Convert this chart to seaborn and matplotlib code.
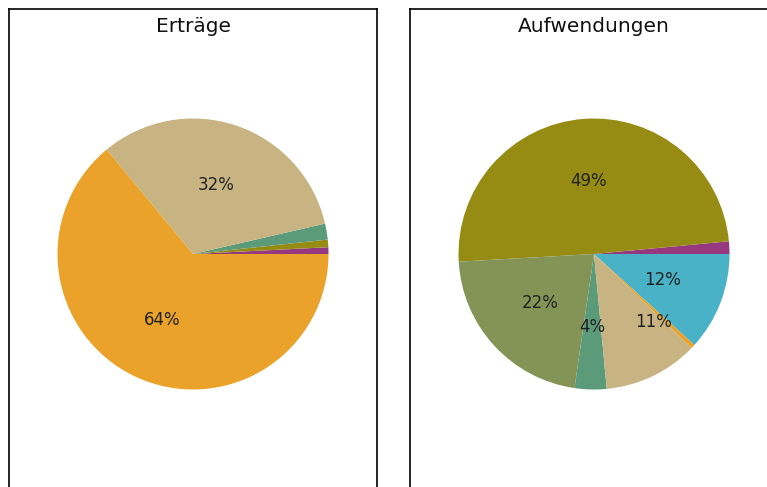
import matplotlib
matplotlib.use('Agg')
import matplotlib.pyplot as plt
import seaborn as sns

# slice colours, shared by both pies
colors = {
    "purple": "#96387F",
    "olive": "#968C14",
    "olivegreen": "#849456",
    "green": "#5B9B7A",
    "beige": "#C8B482",
    "orange": "#EBA22B",
    "blue": "#4AB2C6",
}

ert_keys = ["purple", "olive", "green", "beige", "orange"]
ert_values = [0.8, 0.9, 1.9, 32.4, 64.0]

auf_keys = ["purple", "olive", "olivegreen", "green", "beige", "orange", "blue"]
auf_values = [1.5, 49.4, 21.8, 3.8, 11.3, 0.5, 11.7]

titles = ["Erträge", "Aufwendungen"]

sns.set_theme(style="white")
plt.rcParams['font.family'] = ['DejaVu Sans']

W, H = 767, 487
fig = plt.figure(figsize=(W / 100, H / 100), dpi=100)


def frame(x0, x1):
    ax = fig.add_axes([x0 / W, -0.2, (x1 - x0) / W, 1.2 - 9 / H])
    ax.set_xticks([])
    ax.set_yticks([])
    for s in ax.spines.values():
        s.set_color("black")
        s.set_linewidth(1.2)
    return ax


def pie(cx, keys, values, title):
    r = 135.5
    ax = fig.add_axes([(cx - r) / W, 1 - (254 + r) / H, 2 * r / W, 2 * r / H])
    wedges, texts, autotexts = ax.pie(
        values,
        colors=sns.color_palette([colors[k] for k in keys]),
        startangle=0,
        autopct=lambda p: f"{p:.0f}%" if p >= 3 else "",
        pctdistance=0.54,
        wedgeprops=dict(linewidth=0),
        textprops=dict(fontsize=12, color="#222222"),
    )
    ax.set_xlim(-1, 1)
    ax.set_ylim(-1, 1)
    fig.text(cx / W, 1 - 27 / H, title, ha="center", va="center",
             fontsize=14.5, color="#111111")
    return autotexts


frame(8.5, 377)
frame(410, 800)

pie(193, ert_keys, ert_values, titles[0])
auf_texts = pie(594, auf_keys, auf_values, titles[1])
# the 11% label sits off its wedge's middle in the original
auf_texts[4].set_position((0.437, -0.504))

plt.savefig("out.png", dpi=100)
